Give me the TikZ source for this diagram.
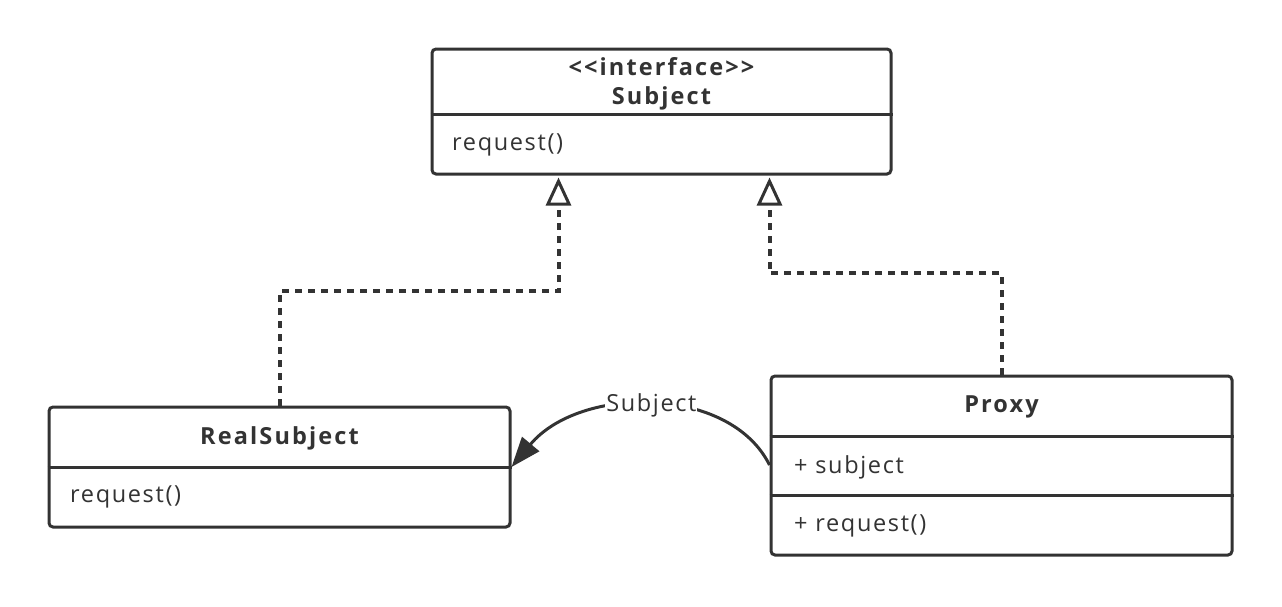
\documentclass[tikz,border=0pt]{standalone}
\usepackage{fontspec}
\setmainfont{Open Sans}
\newfontfamily\umlfont{Open Sans}[LetterSpace=7]
\newfontfamily\umlboldfont{Open Sans}[LetterSpace=9, UprightFont=*, BoldFont=* Bold]
\usetikzlibrary{arrows.meta}
\definecolor{ink}{HTML}{333333}
\begin{document}
\begin{tikzpicture}[x=1pt,y=-1pt,
  umlbox/.style={draw=ink, line width=3pt, rounded corners=4pt, inner sep=0pt, fill=white},
  ttl/.style={text=ink, font=\umlboldfont\fontsize{23.5}{28}\selectfont\bfseries, inner sep=0pt},
  member/.style={text=ink, font=\umlfont\fontsize{23.5}{28}\selectfont, anchor=west, inner sep=0pt},
  divline/.style={draw=ink, line width=3pt},
  realize/.style={draw=ink, line width=4pt, dash pattern=on 7pt off 6pt,
    -{Triangle[open, length=28pt, width=25pt, line width=3pt]}},
  assoc/.style={draw=ink, line width=3pt, -{Triangle[length=30pt, width=22pt]}},
  edgelabel/.style={text=ink, fill=white, inner sep=1pt, font=\umlfont\fontsize{23.5}{28}\selectfont}
]
\useasboundingbox (0,0) rectangle (1282,606);

% interface Subject
\node[umlbox, minimum width=459pt, minimum height=125pt] (subj) at (661.5,111.5) {};
\node[ttl] (subjst) at (661.5,67) {<{}<interface>{}>};
\node[ttl] (subjname) at (661.5,98) {Subject};
\draw[divline] (subj.west |- 0,114) -- (subj.east |- 0,114);
\node[member] (subjop) at (452,145) {request()};

% RealSubject
\node[umlbox, minimum width=461pt, minimum height=120pt] (real) at (279.5,467) {};
\node[ttl] (realname) at (279.5,438) {RealSubject};
\draw[divline] (real.west |- 0,467) -- (real.east |- 0,467);
\node[member] (realop) at (70,497) {request()};

% Proxy
\node[umlbox, minimum width=461pt, minimum height=179pt] (proxy) at (1001.5,465.5) {};
\node[ttl] (proxyname) at (1001.5,407) {Proxy};
\draw[divline] (proxy.west |- 0,436) -- (proxy.east |- 0,436);
\node[member] (proxyattr) at (794,467) {+ subject};
\draw[divline] (proxy.west |- 0,495) -- (proxy.east |- 0,495);
\node[member] (proxyop) at (794,526) {+ request()};

% connector end points
\path (subj.south west) ++(128,2) coordinate (s1);
\path (subj.south west) ++(339,2) coordinate (s2);
\coordinate (k1) at (0,291);
\coordinate (k2) at (0,273);
\coordinate (pa) at (0,465);
\coordinate (ra) at (0,467);

% realizations
\draw[realize] (real.north) -- (real.north |- k1) -- (s1 |- k1) -- (s1);
\draw[realize] (proxy.north) -- (proxy.north |- k2) -- (s2 |- k2) -- (s2);

% association Proxy -> RealSubject
\draw[assoc] (proxy.west |- pa) .. controls (730,385) and (580,385) .. (real.east |- ra)
  node[edgelabel, pos=0.5] (assoclbl) {Subject};
\end{tikzpicture}
\end{document}
